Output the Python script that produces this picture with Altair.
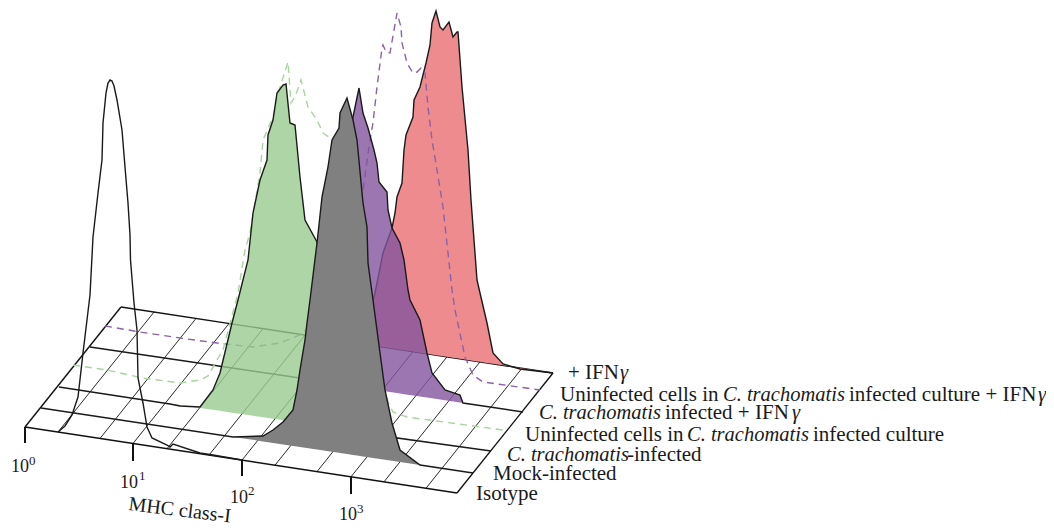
import altair as alt
import numpy as np
import pandas as pd

# Curves (picture-pixel units)
isotype_x = [58,65,72,78,83,90,93,98,102,103,106,108,110,112,114,117,122,125,128,130,130.5,134,137,138,143,147,152,167,170,173,200,213,242]
isotype_y = [432,426,415,397,353,295,237,193,160,123,93,83,80,81,86,100,130,167,203,235,260,303,330,378,403,427,438,445,447,444,453,455,460]
mock_x = [41,233,263,273,283,293,297,300,305,307,310,317,322,328,332,339,340,347,353,357,363,367,368,373,380,385,392,400,420,473]
mock_y = [408,437,436,430,422,410,390,370,340,323,300,243,197,167,140,128,113,98,120,140,203,227,263,300,353,390,423,450,465,473]
trach_x = [59,170,180,200,213,220,232,238,248,253,260,267,268,273,277,283,286,290,295,300,305,317,340,370,397,491]
trach_y = [387,404,406,407,390,373,323,300,260,213,180,160,135,120,93,85,84,123,125,177,220,242,330,420,438,451]
unin_x = [73,107,143,180,200,208,217,223,238,245,250,260,263,273,280,288,291,295,301,308,317,323,333,345,365,380,388,393,407,503]
unin_y = [365,370,378,383,380,376,360,350,293,250,233,173,140,117,87,62,103,97,80,107,120,133,140,200,300,370,402,412,417,430]
trach_ifn_x = [90,300,310,325,338,348,353,359,363,368,374,377,379,387,388,392,400,404,408,410,420,427,432,445,460,463,490,523]
trach_ifn_y = [347,378,370,300,200,135,117,88,113,128,150,163,182,192,210,228,243,260,290,300,320,353,373,390,395,403,407,412]
unin_ifn_x = [105,140,180,217,253,280,300,306,320,340,350,363,370,373,377,382,383,386,390,397,401,402,407,413,417,421,425,428,432,437,443,448,452,455,465,473,483,540]
unin_ifn_y = [326,332,338,343,347,343,335,330,290,300,260,190,140,123,87,48,45,52,53,13,27,43,63,73,72,68,73,107,140,170,207,253,290,310,357,375,382,390]
ifn_x = [350,365,375,383,392,395,397,402,404,406,413,414,420,426,430,432,436,440,443,449,453,457,458,462,468,471,477,480,487,493,503,520,553]
ifn_y = [342,330,293,253,228,213,197,183,150,135,117,100,87,63,45,23,11,27,30,22,37,32,32,87,150,200,280,293,323,353,364,369,373]

# Plane geometry
plane_x = [25,457,553,121]
plane_y = [427,493,373,307]
front_marks = [58,100,133,167,209,242,275,317,351,384,426]
depth_dx, depth_dy = 96, -120
tick_x = [25,133,242,351]
tick_top = [427,444,460,477]
tick_bottom = [443,461,476,494]

# Text
plain_text = ["+ IFN","Uninfected cells in","infected culture + IFN","infected + IFN","Uninfected cells in","infected culture","-infected","Mock-infected","Isotype"]
plain_x = [568,560,849,665,525,813,627,493,476]
plain_y = [379,401,401,419,441,441,461,480,500]
ital_text = ["\u03b3","C. trachomatis","\u03b3","C. trachomatis","\u03b3","C. trachomatis","C. trachomatis"]
ital_x = [620,723,1038,539,792,687,507]
ital_y = [379,401,401,419,419,441,461]
tick_text = ["10","10","10","10"]
tick_text_x = [11,120,230,339]
tick_text_y = [472,488,503,520]
sup_text = ["0","1","2","3"]
sup_x = [29,139,248,357]
sup_y = [465,480,495,513]
axis_title = "MHC class-I"

X = alt.Scale(domain=[8,1046])
Y = alt.Scale(domain=[523,8])
FONT = "Liberation Serif"

def xe(name="x"): return alt.X(f"{name}:Q", scale=X, axis=None)
def ye(name="y"): return alt.Y(f"{name}:Q", scale=Y, axis=None)

def curve_df(xs, ys):
    return pd.DataFrame({"x":xs,"y":ys,"i":range(len(xs))})

def fill(xs, ys, color, opacity):
    base = np.interp(xs,[xs[0],xs[-1]],[ys[0],ys[-1]])
    df = pd.DataFrame({"x":xs,"y":ys,"b":base})
    return alt.Chart(df).mark_area(color=color,opacity=opacity,interpolate="linear").encode(
        x=xe(), y=alt.Y("y:Q",scale=Y,axis=None,stack=None), y2="b:Q")

def line(xs, ys, color="#1a1a1a", width=1.4, dash=None):
    kw = dict(color=color,strokeWidth=width,interpolate="linear")
    if dash: kw["strokeDash"]=dash
    return alt.Chart(curve_df(xs,ys)).mark_line(**kw).encode(x=xe(),y=ye(),order="i:Q")

def rules(x1,y1,x2,y2,width,color="#111111"):
    df = pd.DataFrame({"x":x1,"y":y1,"x2":x2,"y2":y2})
    return alt.Chart(df).mark_rule(color=color,strokeWidth=width).encode(x=xe(),y=ye(),x2="x2:Q",y2="y2:Q")

def texts(t,x,y,size=21,style="normal",angle=0):
    df = pd.DataFrame({"t":t,"x":x,"y":y})
    return alt.Chart(df).mark_text(font=FONT,fontSize=size,fontStyle=style,align="left",baseline="alphabetic",
        color="#1a1a1a",angle=angle).encode(x=xe(),y=ye(),text="t:N")

def fy(x):
    return plane_y[0]+(x-plane_x[0])*(plane_y[1]-plane_y[0])/(plane_x[1]-plane_x[0])

depth = rules(front_marks,[fy(v) for v in front_marks],
              [v+depth_dx for v in front_marks],[fy(v)+depth_dy for v in front_marks],0.9)
edges = rules([plane_x[0],plane_x[1],plane_x[3]],[plane_y[0],plane_y[1],plane_y[3]],
              [plane_x[3],plane_x[2],plane_x[2]],[plane_y[3],plane_y[2],plane_y[2]],1.4)
front = rules([plane_x[0]],[plane_y[0]],[plane_x[1]],[plane_y[1]],1.5)
ticks = rules(tick_x,tick_top,tick_x,tick_bottom,2)

GREEN_F, PURPLE_F, RED_F, GRAY_F = "#9aca8e","#82549c","#ed8b8f","#808080"
GREEN_D, PURPLE_D = "#a9d3a0","#8b62a8"

chart = alt.layer(
    depth, edges,
    fill(ifn_x,ifn_y,RED_F,1), line(ifn_x,ifn_y),
    line(unin_ifn_x,unin_ifn_y,PURPLE_D,1.4,[7,5]),
    fill(trach_ifn_x,trach_ifn_y,PURPLE_F,0.8), line(trach_ifn_x,trach_ifn_y),
    line(unin_x,unin_y,GREEN_D,1.4,[7,5]),
    fill(trach_x,trach_y,GREEN_F,0.8), line(trach_x,trach_y),
    fill(mock_x,mock_y,GRAY_F,1), line(mock_x,mock_y),
    front, line(isotype_x,isotype_y), ticks,
    texts(plain_text,plain_x,plain_y),
    texts(ital_text,ital_x,ital_y,size=20.5,style="italic"),
    texts(tick_text,tick_text_x,tick_text_y,size=18),
    texts(sup_text,sup_x,sup_y,size=13),
    texts([axis_title],[128],[510],size=20,angle=7),
).properties(width=1038,height=515,padding=0,autosize=alt.AutoSizeParams(type="none")
).configure_view(stroke=None)

chart.save("out.html", embed_options={"renderer": "svg", "actions": False})
